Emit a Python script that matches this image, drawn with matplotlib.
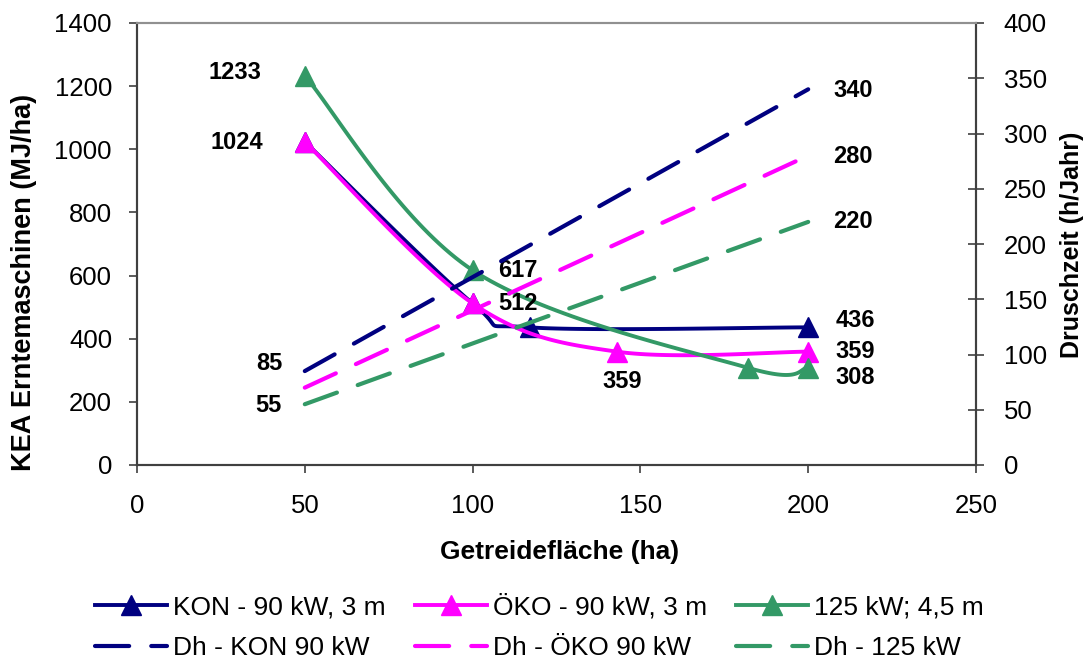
import numpy as np
import matplotlib.pyplot as plt
from matplotlib.lines import Line2D

plt.rcParams['font.family'] = ['Liberation Sans', 'DejaVu Sans']

# KEA Erntemaschinen (MJ/ha) - left axis
kon_x = [50, 100, 117, 200]
kon_y = [1024, 512, 436, 436]
oeko_x = [50, 100, 143, 200]
oeko_y = [1024, 512, 359, 359]
gr_x = [50, 100, 182, 200]
gr_y = [1233, 617, 308, 308]

# Druschzeit (h/Jahr) - right axis
dh_x = [50, 200]
dh_kon = [85, 340]
dh_oeko = [70, 280]
dh_gr = [55, 220]

NAVY = '#000080'
MAG = '#FF00FF'
GRN = '#339966'


def smooth(xs, ys, sx, sy, n=40):
    # excel-like smoothed line (catmull-rom bezier in screen units)
    p = np.column_stack([np.array(xs) / sx, np.array(ys) / sy])
    pts = np.vstack([p[0], p, p[-1]])
    out = []
    t = np.linspace(0, 1, n)[:, None]
    for i in range(1, len(pts) - 2):
        p0, p1, p2, p3 = pts[i - 1], pts[i], pts[i + 1], pts[i + 2]
        c1 = p1 + (p2 - p0) / 6
        c2 = p2 - (p3 - p1) / 6
        out.append((1 - t) ** 3 * p1 + 3 * (1 - t) ** 2 * t * c1 + 3 * (1 - t) * t ** 2 * c2 + t ** 3 * p2)
    c = np.vstack(out)
    return c[:, 0] * sx, c[:, 1] * sy


fig = plt.figure(figsize=(10.84, 6.59), dpi=100)
ax = fig.add_axes([137 / 1084, 1 - 465 / 659, 839 / 1084, 442 / 659])
ax2 = ax.twinx()

sx = 250 / 839
sy = 1400 / 442
lw = 2.8
ms = 14
for xs, ys, col in [(kon_x, kon_y, NAVY), (oeko_x, oeko_y, MAG), (gr_x, gr_y, GRN)]:
    cx, cy = smooth(xs, ys, sx, sy)
    ax.plot(cx, cy, color=col, lw=lw, solid_capstyle='round')
    ax.plot(xs, ys, ls='none', marker='^', ms=ms, color=col)

dash = (8.2, 5.3)
for ys, col in [(dh_kon, NAVY), (dh_oeko, MAG), (dh_gr, GRN)]:
    ax2.plot(dh_x, ys, color=col, lw=3, dashes=dash, dash_capstyle='round')

ax.set_xlim(0, 250)
ax.set_ylim(0, 1400)
ax2.set_ylim(0, 400)
ax.set_xticks(np.arange(0, 251, 50))
ax.set_yticks(np.arange(0, 1401, 200))
ax2.set_yticks(np.arange(0, 401, 50))

fs = 18.5
ax.tick_params(axis='x', direction='out', length=6, width=1.2, labelsize=fs, pad=15, color='#404040')
ax.tick_params(axis='y', direction='out', length=6, width=1.2, labelsize=fs, pad=12, color='#404040')
ax2.tick_params(axis='y', direction='inout', length=12, width=1.2, labelsize=fs, pad=14, color='#404040')

for a in (ax, ax2):
    for s in ('left', 'bottom', 'right'):
        a.spines[s].set_color('#404040')
        a.spines[s].set_linewidth(1.5)
    a.spines['top'].set_color('#909090')
    a.spines['top'].set_linewidth(1.5)

ax.set_xlabel('Getreidefläche (ha)', fontsize=19, fontweight='bold')
ax.set_ylabel('KEA Erntemaschinen (MJ/ha)', fontsize=19.5, fontweight='bold')
ax2.set_ylabel('Druschzeit (h/Jahr)', fontsize=18, fontweight='bold')
ax.xaxis.set_label_coords(0.504, -0.17)
ax.yaxis.set_label_coords(-0.119, 0.412)
ax2.yaxis.set_label_coords(1.1, 0.498)

# data labels
lab = dict(fontsize=17, fontweight='bold', textcoords='offset pixels', va='center')
ax.annotate(str(gr_y[0]), (gr_x[0], gr_y[0]), xytext=(-43, 3), ha='right', **lab)
ax.annotate(str(oeko_y[0]), (oeko_x[0], oeko_y[0]), xytext=(-42, -1), ha='right', **lab)
ax2.annotate(str(dh_kon[0]), (dh_x[0], dh_kon[0]), xytext=(-22, 8), ha='right', **lab)
ax2.annotate(str(dh_gr[0]), (dh_x[0], dh_gr[0]), xytext=(-23, -1), ha='right', **lab)
ax.annotate(str(gr_y[1]), (gr_x[1], gr_y[1]), xytext=(26, 0), ha='left', **lab)
ax.annotate(str(oeko_y[1]), (oeko_x[1], oeko_y[1]), xytext=(26, 0), ha='left', **lab)
ax.annotate(str(oeko_y[2]), (oeko_x[2], oeko_y[2]), xytext=(5, -30), ha='center', **lab)
ax.annotate(str(kon_y[3]), (kon_x[3], kon_y[3]), xytext=(27, 7), ha='left', **lab)
ax.annotate(str(oeko_y[3]), (oeko_x[3], oeko_y[3]), xytext=(27, 0), ha='left', **lab)
ax.annotate(str(gr_y[3]), (gr_x[3], gr_y[3]), xytext=(27, -10), ha='left', **lab)
ax2.annotate(str(dh_kon[1]), (dh_x[1], dh_kon[1]), xytext=(25, -1), ha='left', **lab)
ax2.annotate(str(dh_oeko[1]), (dh_x[1], dh_oeko[1]), xytext=(25, -1), ha='left', **lab)
ax2.annotate(str(dh_gr[1]), (dh_x[1], dh_gr[1]), xytext=(25, 0), ha='left', **lab)

handles = [
    Line2D([], [], color=NAVY, lw=lw, marker='^', ms=ms),
    Line2D([], [], color=NAVY, lw=3, dashes=dash, dash_capstyle='round'),
    Line2D([], [], color=MAG, lw=lw, marker='^', ms=ms),
    Line2D([], [], color=MAG, lw=3, dashes=dash, dash_capstyle='round'),
    Line2D([], [], color=GRN, lw=lw, marker='^', ms=ms),
    Line2D([], [], color=GRN, lw=3, dashes=dash, dash_capstyle='round'),
]
labels = ['KON - 90 kW, 3 m', 'Dh - KON 90 kW', 'ÖKO - 90 kW, 3 m',
          'Dh - ÖKO 90 kW', '125 kW; 4,5 m', 'Dh - 125 kW']
fig.legend(handles, labels, ncol=3, loc='upper left', bbox_to_anchor=(95 / 1084, 1 - 594 / 659),
           frameon=False, fontsize=19, handlelength=2.73, handletextpad=0.23,
           columnspacing=1.1, labelspacing=0.62, numpoints=1, borderpad=0, borderaxespad=0)

fig.savefig('out.png', dpi=100)
